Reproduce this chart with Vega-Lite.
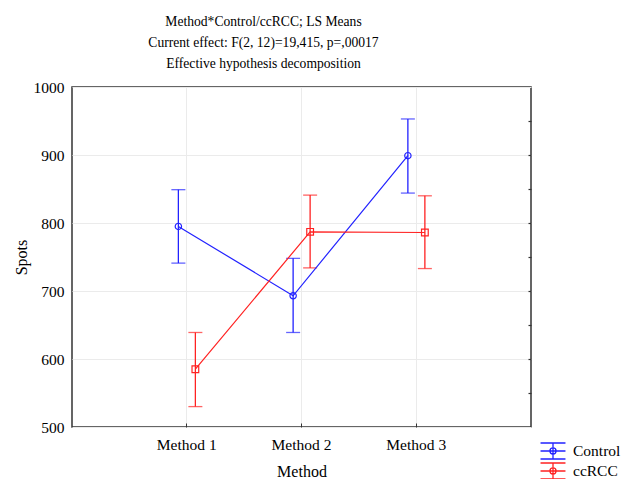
{
  "$schema": "https://vega.github.io/schema/vega-lite/v6.json",
  "autosize": "none",
  "width": 459,
  "height": 340,
  "padding": {"left": 72, "top": 87, "right": 91, "bottom": 52},
  "background": "white",
  "title": {
    "text": ["Method*Control/ccRCC; LS Means", "Current effect: F(2, 12)=19,415, p=,00017", "Effective hypothesis decomposition"],
    "font": "Liberation Serif",
    "fontSize": 13.6,
    "fontWeight": "normal",
    "lineHeight": 21,
    "offset": 9,
    "dx": -38,
    "color": "black"
  },
  "config": {
    "view": {"stroke": "#333333", "strokeWidth": 1.5},
    "axis": {
      "labelFont": "Liberation Serif",
      "titleFont": "Liberation Serif",
      "labelFontSize": 15.5,
      "titleFontSize": 16,
      "titleFontWeight": "normal",
      "labelColor": "black",
      "titleColor": "black",
      "gridColor": "#ebebeb",
      "gridWidth": 1,
      "domain": false
    }
  },
  "resolve": {"axis": {"y": "independent"}},
  "data": {
    "values": [
      {"method": "Method 1", "group": "Control", "mean": 795, "lower": 741, "upper": 849},
      {"method": "Method 2", "group": "Control", "mean": 693, "lower": 639, "upper": 748},
      {"method": "Method 3", "group": "Control", "mean": 899, "lower": 844, "upper": 953},
      {"method": "Method 1", "group": "ccRCC", "mean": 585, "lower": 530, "upper": 639},
      {"method": "Method 2", "group": "ccRCC", "mean": 787, "lower": 734, "upper": 841},
      {"method": "Method 3", "group": "ccRCC", "mean": 786, "lower": 733, "upper": 840}
    ]
  },
  "encoding": {
    "x": {
      "field": "method",
      "type": "nominal",
      "scale": {"type": "band", "paddingInner": 0, "paddingOuter": 0.5},
      "axis": {"labelAngle": 0, "title": "Method", "grid": true, "ticks": true, "tickSize": -4, "tickColor": "#333333", "labelPadding": 14, "titlePadding": 11}
    },
    "xOffset": {
      "field": "group",
      "type": "nominal",
      "scale": {"type": "band", "domain": ["Control", "ccRCC"], "paddingInner": 0, "paddingOuter": 0, "range": [40.5, 74.5]}
    },
    "color": {
      "field": "group",
      "type": "nominal",
      "scale": {"domain": ["Control", "ccRCC"], "range": ["#2222ff", "#ff2222"]},
      "legend": {
        "title": null,
        "orient": "none",
        "legendX": 472,
        "legendY": 355,
        "padding": 0,
        "symbolType": "M-1.56,-1H1.56M-1.56,0H1.56M-1.56,1H1.56M0,-1V1M0.38,0A0.38,0.38 0 1,1 -0.38,0A0.38,0.38 0 1,1 0.38,0",
        "symbolSize": 256,
        "symbolStrokeWidth": 1.3,
        "symbolFillColor": "transparent",
        "symbolOpacity": 1,
        "labelFont": "Liberation Serif",
        "labelFontSize": 15.5,
        "labelColor": "black",
        "labelOffset": 11,
        "rowPadding": -3,
        "encode": {"symbols": {"update": {"fillOpacity": {"value": 0}}}}
      }
    }
  },
  "layer": [
    {
      "mark": {"type": "rule", "strokeWidth": 1.3},
      "encoding": {
        "y": {
          "field": "lower",
          "type": "quantitative",
          "scale": {"domain": [500, 1000], "nice": false, "zero": false},
          "axis": {"orient": "right", "title": null, "labels": false, "grid": false, "ticks": true, "tickSize": 3, "offset": -3, "tickColor": "#333333", "tickWidth": 1.2, "values": [550, 600, 650, 700, 750, 800, 850, 900, 950]}
        },
        "y2": {"field": "upper"}
      }
    },
    {
      "mark": {"type": "tick", "size": 14, "thickness": 1.3},
      "encoding": {"y": {"field": "lower", "type": "quantitative", "axis": null}}
    },
    {
      "mark": {"type": "tick", "size": 14, "thickness": 1.3},
      "encoding": {"y": {"field": "upper", "type": "quantitative", "axis": null}}
    },
    {
      "mark": {"type": "line", "strokeWidth": 1.2},
      "encoding": {
        "y": {
          "field": "mean",
          "type": "quantitative",
          "axis": {"title": "Spots", "format": "d", "values": [500, 600, 700, 800, 900, 1000], "grid": true, "ticks": false, "labelPadding": 8, "titlePadding": 4}
        }
      }
    },
    {
      "transform": [{"filter": "datum.group === 'Control'"}],
      "mark": {"type": "point", "shape": "circle", "filled": false, "strokeWidth": 1.2, "opacity": 1, "size": 40},
      "encoding": {
        "y": {"field": "mean", "type": "quantitative", "axis": null}
      }
    },
    {
      "transform": [{"filter": "datum.group === 'ccRCC'"}],
      "mark": {"type": "point", "shape": "square", "filled": false, "strokeWidth": 1.2, "opacity": 1, "size": 45},
      "encoding": {
        "y": {"field": "mean", "type": "quantitative", "axis": null}
      }
    }
  ]
}
